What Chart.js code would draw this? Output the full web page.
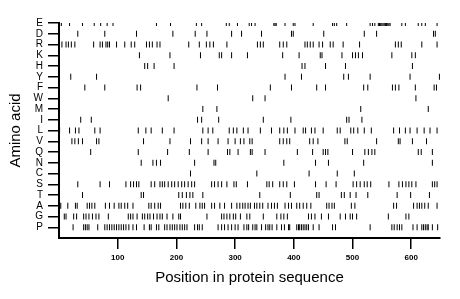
<!DOCTYPE html>
<html>
<head>
<meta charset="utf-8">
<script src="https://cdn.jsdelivr.net/npm/chart.js@4"></script>
<style>
  html, body { margin: 0; padding: 0; background: #fff; }
</style>
</head>
<body>
<canvas id="chart" width="460" height="299"></canvas>
<script>
// rows top to bottom
const aminoAcids = ['E', 'D', 'R', 'K', 'H', 'Y', 'F', 'W', 'M', 'I', 'L', 'V', 'Q', 'N', 'C', 'S', 'T', 'A', 'G', 'P'];
const xTicks = [100, 200, 300, 400, 500, 600];

// positions of each residue in the sequence
const posE = [1, 4, 18, 40, 60, 71, 82, 92, 166, 190, 234, 243, 285, 290, 304, 324, 328, 334, 366, 368, 370, 385, 399, 402, 433, 466, 469, 473, 490, 530, 534, 538, 544, 546, 548, 550, 552, 554, 556, 558, 560, 562, 564, 584, 590, 612, 618, 624, 644];
const posD = [32, 78, 132, 194, 232, 252, 294, 311, 345, 396, 399, 451, 520, 541, 638, 641];
const posR = [5, 12, 16, 21, 27, 59, 70, 74, 80, 83, 86, 98, 112, 123, 129, 149, 154, 159, 167, 172, 221, 239, 251, 257, 263, 286, 338, 343, 348, 376, 382, 388, 419, 423, 428, 433, 443, 449, 462, 467, 484, 512, 573, 578, 583, 618, 644];
const posK = [137, 189, 241, 273, 277, 294, 321, 381, 409, 445, 448, 482, 500, 505, 510, 517, 567, 601, 607];
const posH = [146, 151, 162, 196, 414, 419, 454, 488, 602];
const posY = [20, 64, 385, 413, 485, 493, 530, 598, 648];
const posF = [44, 78, 133, 139, 235, 270, 360, 396, 439, 454, 519, 526, 568, 573, 579, 607, 639, 643];
const posW = [186, 330, 351, 608];
const posM = [245, 269, 514, 629];
const posI = [37, 55, 236, 243, 272, 348, 395, 490, 494, 516];
const posL = [1, 18, 28, 34, 61, 70, 135, 148, 157, 176, 196, 245, 254, 262, 290, 297, 303, 314, 322, 343, 362, 376, 383, 389, 402, 416, 420, 430, 436, 450, 474, 479, 497, 502, 509, 520, 532, 570, 580, 590, 598, 610, 622, 632, 644];
const posV = [22, 27, 33, 40, 64, 68, 144, 189, 224, 243, 254, 271, 288, 300, 309, 315, 325, 329, 376, 382, 388, 393, 427, 433, 441, 487, 491, 541, 578, 581, 602, 626];
const posQ = [54, 135, 185, 222, 254, 287, 291, 305, 326, 329, 351, 406, 432, 450, 454, 458, 500, 521, 527, 533, 538, 612, 617, 636];
const posN = [140, 160, 166, 173, 231, 264, 267, 383, 437, 459, 519, 636];
const posC = [224, 337, 426, 474, 503];
const posS = [32, 70, 86, 114, 122, 127, 132, 136, 157, 163, 172, 176, 180, 186, 192, 197, 203, 209, 214, 220, 226, 231, 260, 265, 271, 277, 286, 298, 302, 321, 354, 358, 364, 376, 382, 388, 401, 437, 455, 472, 501, 507, 513, 520, 525, 531, 562, 579, 585, 591, 596, 601, 608, 636, 640, 644];
const posT = [40, 140, 144, 204, 210, 217, 223, 228, 245, 342, 394, 439, 443, 481, 486, 496, 506, 526, 576, 599, 631];
const posA = [1, 3, 15, 28, 31, 48, 52, 56, 61, 79, 86, 94, 102, 106, 112, 117, 126, 153, 157, 163, 169, 173, 207, 211, 216, 222, 233, 240, 244, 248, 260, 265, 274, 282, 294, 303, 308, 313, 317, 322, 326, 333, 337, 342, 347, 356, 362, 367, 372, 385, 391, 396, 405, 410, 416, 422, 429, 456, 460, 465, 469, 498, 504, 570, 575, 604, 610, 614, 618, 623, 629, 644];
const posG = [9, 12, 25, 30, 42, 46, 51, 57, 63, 68, 84, 118, 122, 126, 133, 142, 146, 151, 155, 161, 167, 172, 176, 184, 194, 204, 207, 252, 277, 281, 286, 291, 297, 301, 309, 320, 325, 348, 371, 378, 383, 389, 425, 430, 436, 447, 459, 479, 488, 496, 500, 507, 561, 591, 596];
const posP = [24, 42, 45, 48, 51, 66, 78, 82, 86, 90, 94, 98, 102, 106, 110, 114, 119, 126, 132, 145, 154, 157, 166, 170, 180, 184, 189, 193, 197, 201, 206, 210, 214, 218, 231, 236, 239, 244, 271, 277, 282, 288, 294, 300, 305, 315, 320, 323, 330, 334, 337, 345, 352, 356, 359, 363, 371, 379, 384, 391, 393, 405, 408, 410, 413, 416, 419, 422, 425, 433, 443, 466, 471, 530, 567, 571, 576, 580, 584, 603, 610, 618, 621, 624, 627, 629, 636, 645];

const positions = [posE, posD, posR, posK, posH, posY, posF, posW, posM, posI,
                   posL, posV, posQ, posN, posC, posS, posT, posA, posG, posP];

const nRows = aminoAcids.length;
const font = 'Liberation Sans, Arial, Helvetica, sans-serif';

const datasets = aminoAcids.map((aa, i) => ({
    label: aa,
    data: positions[i].map(p => ({ x: p, y: nRows - i })),
    pointStyle: 'line',
    rotation: 90,
    radius: 3,
    borderColor: '#000',
    backgroundColor: '#000',
    borderWidth: 1,
}));

const chart = new Chart(document.getElementById('chart').getContext('2d'), {
    type: 'scatter',
    data: { datasets },
    options: {
        responsive: false,
        animation: false,
        events: [],
        layout: { padding: { top: 23, right: 20, left: 0, bottom: 0 } },
        plugins: {
            legend: { display: false },
            tooltip: { enabled: false },
        },
        scales: {
            x: {
                type: 'linear',
                min: 0,
                max: 649,
                afterBuildTicks: s => { s.ticks = xTicks.map(v => ({ value: v })); },
                afterFit: s => { s.height = 61; },
                grid: { drawOnChartArea: false, tickLength: 11, color: '#000', lineWidth: 1.5 },
                border: { display: true, color: '#000', width: 2 },
                ticks: { color: '#000', padding: 4, autoSkip: false, maxRotation: 0, font: { family: font, size: 8, weight: 'bold' } },
                title: {
                    display: true,
                    text: 'Position in protein sequence',
                    color: '#000',
                    font: { family: font, size: 15 },
                    padding: { top: 0, bottom: 12 },
                },
            },
            y: {
                type: 'linear',
                min: 0,
                max: nRows,
                afterBuildTicks: s => { s.ticks = aminoAcids.map((a, i) => ({ value: nRows - i })); },
                afterFit: s => { s.width = 59; },
                grid: { drawOnChartArea: false, tickLength: 11, color: '#000', lineWidth: 1.5 },
                border: { display: true, color: '#000', width: 2 },
                ticks: {
                    color: '#000',
                    padding: 5,
                    autoSkip: false,
                    font: { family: font, size: 10 },
                    callback: v => aminoAcids[nRows - v],
                },
                title: {
                    display: true,
                    text: 'Amino acid',
                    color: '#000',
                    font: { family: font, size: 15 },
                    padding: { top: 7, bottom: 0 },
                },
            },
        },
    },
});
</script>
</body>
</html>
